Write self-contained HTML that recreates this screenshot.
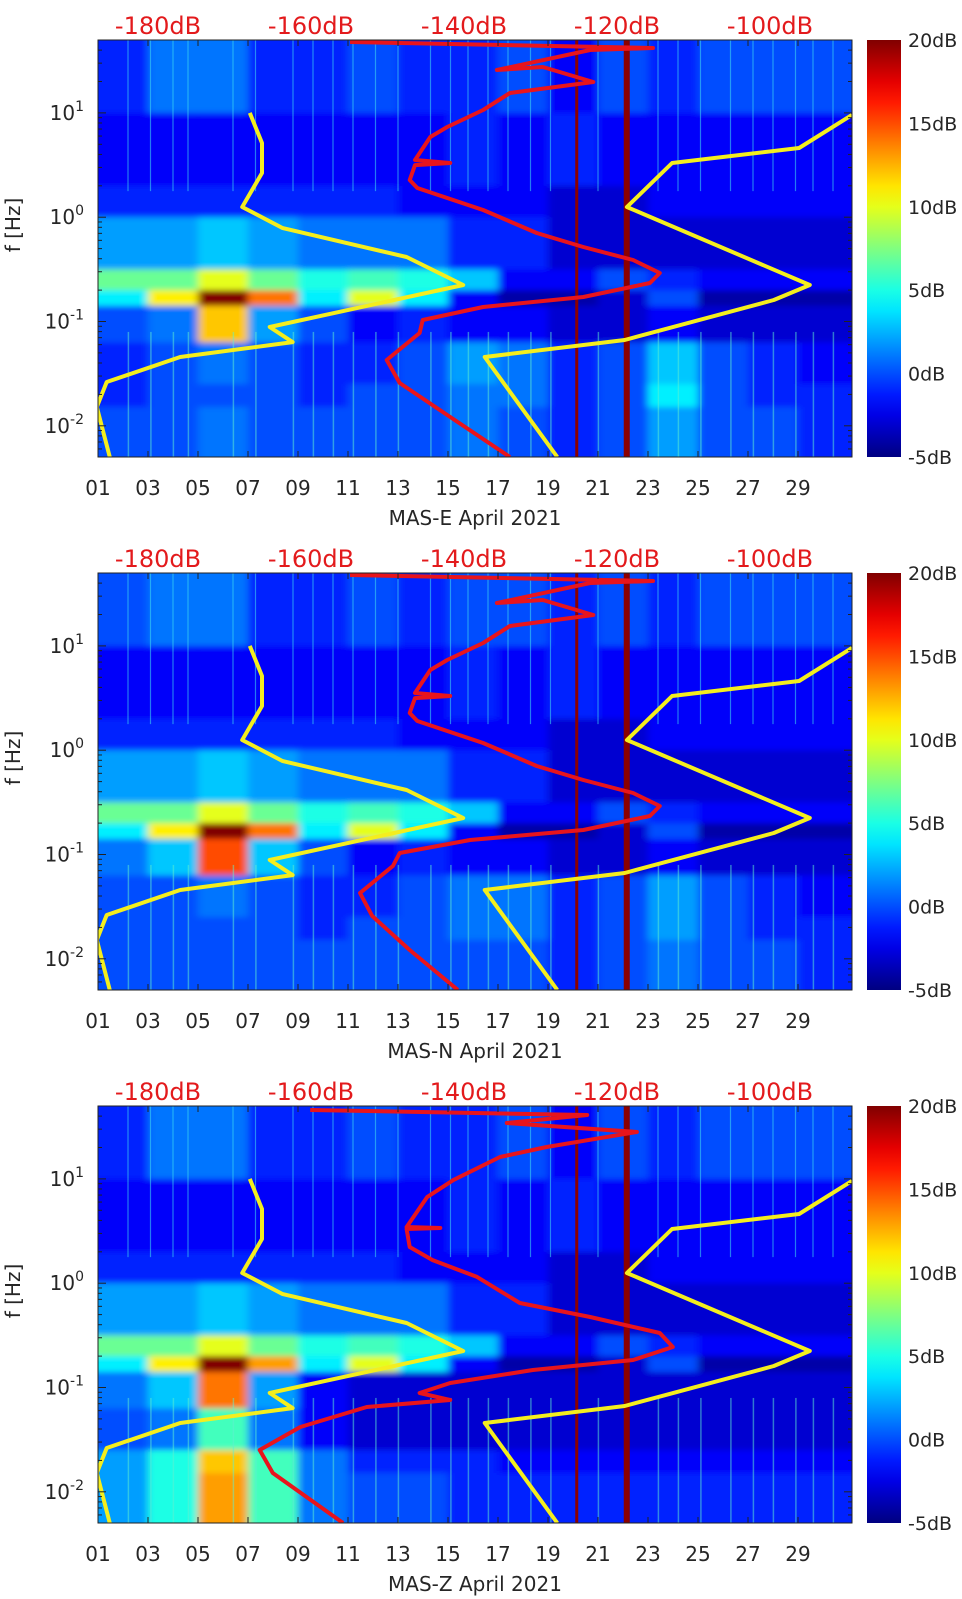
<!DOCTYPE html>
<html><head><meta charset="utf-8">
<style>
html,body{margin:0;padding:0;background:#fff;}
svg{display:block;font-family:"DejaVu Sans","Liberation Sans",sans-serif;}
</style></head>
<body>
<svg id="fig" width="962" height="1599" viewBox="0 0 962 1599" xmlns="http://www.w3.org/2000/svg"></svg>
<script>
// ---------- data ----------
const panelNames = ["MAS-E April 2021","MAS-N April 2021","MAS-Z April 2021"];
const dayTicks = ["01","03","05","07","09","11","13","15","17","19","21","23","25","27","29"];
const dbLabels = [-180,-160,-140,-120,-100];
const cbLabels = [20,15,10,5,0,-5];
const yDecades = [1,0,-1,-2];
// frequency bands (log10 Hz upper, lower)
const bandHi = [1.699,1.0,0.3,0.0,-0.5,-0.7,-0.85,-1.2,-1.6,-1.82];
const bandLo = [1.0,0.3,0.0,-0.5,-0.7,-0.85,-1.2,-1.6,-1.82,-2.3];
// 15 two-day bins starting day 1
const gridE = [
 [-1,1,1,-1,-1,0,-1,-1,0,-2,0,-1,0,0,0],
 [-2,-2,-2,-2,-2,-2,-2,-1,-2,-1,-2,-2,-2,-2,-2],
 [-1,-1,-1,-1,-1,-1,-2,-2,-2,-3,-3,-2,-2,-2,-2],
 [2,2,3,2,1,1,1,-1,-1,-3,-3,-3,-3,-3,-3],
 [7,7,10,7,5,6,5,3,-2,-2,0,-1,-2,-2,-2],
 [4,11,20,14,4,10,4,-2,-4,-4,-3,0,-4,-4,-4],
 [0,1,12,2,0,-2,-1,-2,-2,-3,-3,-2,-3,-3,-3],
 [-1,0,1,0,-1,-1,0,2,1,-1,0,3,0,-1,-2],
 [-1,0,0,0,-1,0,0,1,1,-1,0,4,0,-1,-1],
 [0,0,1,0,0,0,0,1,0,-1,0,2,0,0,-1]];
const gridN = [
 [0,1,1,-1,-1,0,-1,0,0,-1,0,-1,0,0,0],
 [-2,-2,-2,-2,-2,-2,-2,-1,-2,-1,-2,-2,-2,-2,-2],
 [-1,-1,-1,-1,-1,-1,-2,-2,-2,-3,-3,-2,-2,-2,-2],
 [2,2,3,2,1,1,1,-1,-1,-3,-3,-3,-3,-3,-3],
 [7,7,10,7,5,6,5,3,-2,-2,0,-1,-2,-2,-2],
 [4,11,20,14,4,10,4,-2,-4,-4,-3,0,-4,-4,-4],
 [1,3,15,3,0,-2,-1,-2,-2,-3,-3,-2,-3,-3,-3],
 [0,0,1,0,-1,-1,0,1,1,-1,0,2,0,-1,-2],
 [0,0,0,0,-1,0,0,1,1,-1,0,2,0,-1,-1],
 [0,0,0,0,0,0,0,0,0,-1,0,1,0,0,-1]];
const gridZ = [
 [-1,1,1,-1,-1,0,-1,-1,0,-2,0,-1,0,0,0],
 [-2,-2,-2,-2,-2,-2,-2,-1,-2,-1,-2,-2,-2,-2,-2],
 [-1,-1,-1,-1,-1,-1,-2,-2,-2,-3,-3,-2,-2,-2,-2],
 [2,2,3,2,1,1,1,-1,-1,-3,-3,-3,-3,-3,-3],
 [7,7,10,7,5,6,5,3,-2,-2,0,-1,-2,-2,-2],
 [4,11,20,13,4,10,4,-2,-4,-4,-3,0,-4,-4,-4],
 [1,3,14,2,-2,-3,-3,-3,-3,-3,-3,-3,-3,-3,-3],
 [0,1,6,1,-2,-3,-3,-3,-3,-3,-3,-3,-3,-3,-3],
 [2,5,12,6,1,-1,-1,-1,-2,-2,-2,-2,-2,-2,-2],
 [2,5,13,6,1,0,0,-1,-1,-1,-1,-1,-1,-1,-1]];
// vertical transient streaks (day positions)
const streakDays = [2.2,3.1,4.0,4.6,6.4,7.3,8.8,9.6,10.4,11.2,12.1,13.0,14.3,15.1,15.8,16.6,17.4,18.3,19.1,21.0,23.4,24.2,25.1,26.3,27.2,28.0,28.9,29.6,30.4];
// model curves: [dB, log10 f]
const nlnm = [[-168.0,1.0],[-166.4,0.711],[-166.4,0.424],[-169.0,0.098],[-163.7,-0.104],[-147.5,-0.382],[-140.1,-0.650],[-165.4,-1.053],[-162.4,-1.197],[-177.1,-1.340],[-186.7,-1.580],[-188.0,-1.820],[-186.3,-2.300]];
const nhnm = [[-89.3,0.980],[-96.2,0.664],[-112.8,0.520],[-118.7,0.098],[-94.8,-0.650],[-99.5,-0.794],[-119.0,-1.177],[-137.3,-1.340],[-127.8,-2.299]];
const redE = [[-154.9,1.680],[-115.3,1.622],[-123.5,1.603],[-135.7,1.411],[-129.7,1.440],[-123.1,1.296],[-134.0,1.191],[-137.5,1.028],[-142.2,0.865],[-144.4,0.769],[-146.4,0.548],[-141.8,0.520],[-146.4,0.500],[-147.1,0.357],[-146.1,0.280],[-137.5,0.069],[-130.5,-0.151],[-124.4,-0.286],[-117.9,-0.410],[-114.4,-0.535],[-115.7,-0.631],[-124.4,-0.765],[-137.5,-0.861],[-145.4,-0.986],[-145.8,-1.110],[-150.1,-1.369],[-148.4,-1.590],[-141.8,-1.916],[-134.0,-2.299]];
const redN = [[-154.9,1.680],[-115.3,1.622],[-123.5,1.603],[-135.7,1.411],[-129.7,1.440],[-123.1,1.296],[-134.0,1.191],[-137.5,1.028],[-142.2,0.865],[-144.4,0.769],[-146.4,0.548],[-141.8,0.520],[-146.4,0.500],[-147.1,0.357],[-146.1,0.280],[-137.5,0.069],[-130.5,-0.151],[-124.4,-0.286],[-117.9,-0.410],[-114.4,-0.535],[-115.7,-0.631],[-124.4,-0.765],[-139.2,-0.861],[-148.4,-0.986],[-149.3,-1.110],[-153.6,-1.369],[-152.0,-1.590],[-147.1,-1.916],[-140.8,-2.299]];
const redZ = [[-160.1,1.661],[-123.9,1.613],[-134.4,1.536],[-117.4,1.450],[-129.2,1.306],[-135.3,1.210],[-141.4,0.989],[-144.8,0.827],[-147.5,0.539],[-143.1,0.529],[-147.5,0.520],[-147.1,0.347],[-144.1,0.222],[-138.3,0.060],[-132.7,-0.190],[-123.5,-0.324],[-114.4,-0.477],[-112.7,-0.612],[-117.9,-0.736],[-131.0,-0.832],[-141.8,-0.957],[-145.8,-1.053],[-141.8,-1.120],[-152.7,-1.187],[-161.4,-1.379],[-166.7,-1.599],[-165.0,-1.820],[-155.8,-2.299]];
const eventDays = [20.15, 22.15];
const eventWidths = [3, 6];

// ---------- layout ----------
const NS="http://www.w3.org/2000/svg";
const svg=document.getElementById('fig');
const tops=[40,573,1106], H=417, XL=98, XR=852, CBX=867, CBW=34;
const xDay=d=>XL+(d-1)*25;
const xDb=db=>158+(db+180)*7.65;
const yF=(lf,t)=>t+(1.699-lf)*104.3;
function el(tag,attrs,parent){const e=document.createElementNS(NS,tag);for(const k in attrs)e.setAttribute(k,attrs[k]);(parent||svg).appendChild(e);return e;}
function jet(dB){let v=Math.max(0,Math.min(1,(dB+5)/25));const c=x=>Math.round(255*Math.max(0,Math.min(1,x)));
 return `rgb(${c(1.5-Math.abs(4*v-3))},${c(1.5-Math.abs(4*v-2))},${c(1.5-Math.abs(4*v-1))})`;}

const defs=el('defs',{});
const grad=el('linearGradient',{id:'jetg',x1:0,y1:1,x2:0,y2:0},defs);
for(let i=0;i<=20;i++){el('stop',{offset:(i/20),'stop-color':jet(-5+25*i/20)},grad);}
const filt=el('filter',{id:'soft',x:'-5%',y:'-5%',width:'110%',height:'110%'},defs);
el('feGaussianBlur',{stdDeviation:'4 3'},filt);

const grids=[gridE,gridN,gridZ], reds=[redE,redN,redZ];
tops.forEach((t,p)=>{
  const cp=el('clipPath',{id:'clip'+p},defs);
  el('rect',{x:XL,y:t,width:XR-XL,height:H},cp);

  const g=el('g',{'clip-path':`url(#clip${p})`});
  
  
  const hm=el('g',{filter:'url(#soft)'},g);
  
  
  const grid=grids[p];
  const nb=bandHi.length;
  grid.forEach((row,b)=>{
    row.forEach((val,i)=>{
      const d0=1+2*i, d1=(i===row.length-1)?31.8:d0+2;
      let x0=xDay(d0)-(i===0?15:0), x1=xDay(d1);
      let y0=yF(bandHi[b],t)-(b===0?15:0), y1=yF(bandLo[b],t)+(b===nb-1?15:0);
      const r=el('rect',{x:x0,y:y0,width:x1-x0+0.6,height:y1-y0+0.6,fill:jet(val)},hm);
      
      
    });
  });
  // streaks
  streakDays.forEach(d=>{
    const s=el('line',{x1:xDay(d),x2:xDay(d),y1:t,y2:yF(0.25,t),stroke:'#40e0f0','stroke-width':1.2,opacity:0.55},g);
    
    
    const s2=el('line',{x1:xDay(d)+0.4,x2:xDay(d)+0.4,y1:yF(-1.1,t),y2:t+H,stroke:'#60f0d0','stroke-width':1.5,opacity:0.5},g);
    
    
  });
  eventDays.forEach((d,k)=>{
    const l=el('line',{x1:xDay(d),x2:xDay(d),y1:t,y2:t+H,stroke:'#8b0000','stroke-width':eventWidths[k]},g);
    
    
  });
  const curve=(pts,color,name)=>{
    const pl=el('polyline',{points:pts.map(q=>xDb(q[0]).toFixed(1)+','+yF(q[1],t).toFixed(1)).join(' '),fill:'none',stroke:color,'stroke-width':4,'stroke-linejoin':'round'},g);
    
    
  };
  curve(nlnm,'#f4ee1e','low-noise-model');
  curve(nhnm,'#f4ee1e','high-noise-model');
  curve(reds[p],'#e8141c','station-psd-curve');

  const bx=el('rect',{x:XL,y:t,width:XR-XL,height:H,fill:'none',stroke:'#222','stroke-width':1});
  
  
  dayTicks.forEach((lab,i)=>{
    const x=xDay(1+2*i);
    el('line',{x1:x,x2:x,y1:t+H,y2:t+H-6,stroke:'#222'});
    el('line',{x1:x,x2:x,y1:t,y2:t+6,stroke:'#222'});
    const tx=el('text',{x:x,y:t+H+38,'text-anchor':'middle','font-size':20,fill:'#262626'});
    tx.textContent=lab;
    
    
  });
  for(let dec=-3;dec<=1;dec++){
    for(let m=1;m<=9;m++){
      const lf=dec+Math.log10(m); if(lf<-2.3||lf>1.699)continue;
      const y=yF(lf,t), len=m===1?8:4;
      el('line',{x1:XL,x2:XL+len,y1:y,y2:y,stroke:'#222'});
      el('line',{x1:XR,x2:XR-len,y1:y,y2:y,stroke:'#222'});
    }
  }
  yDecades.forEach(dec=>{
    const y=yF(dec,t);
    const tx=el('text',{x:84,y:y+7,'text-anchor':'end','font-size':20,fill:'#262626'});
    
    
    const a=el('tspan',{},tx);a.textContent='10';
    const s=el('tspan',{dy:-9,'font-size':14},tx);s.textContent=String(dec);
  });
  dbLabels.forEach(db=>{
    const tx=el('text',{x:xDb(db),y:t-6,'text-anchor':'middle','font-size':24,fill:'#e31a1c'});
    tx.textContent=db+'dB';
    
    
  });
  const xt=el('text',{x:475,y:t+H+68,'text-anchor':'middle','font-size':20,fill:'#262626'});
  xt.textContent=panelNames[p];
  
  
  const yt=el('text',{x:0,y:0,'text-anchor':'middle','font-size':20,fill:'#262626',transform:`translate(20,${t+185}) rotate(-90)`});
  yt.textContent='f [Hz]';
  
  
  const cb=el('rect',{x:CBX,y:t,width:CBW,height:H,fill:'url(#jetg)'});
  
  
  cbLabels.forEach(v=>{
    const y=t+H*(20-v)/25;
    const tx=el('text',{x:908,y:y+7,'font-size':19,fill:'#262626'});
    tx.textContent=v+'dB';
    
    
  });
});
</script>
</body></html>
